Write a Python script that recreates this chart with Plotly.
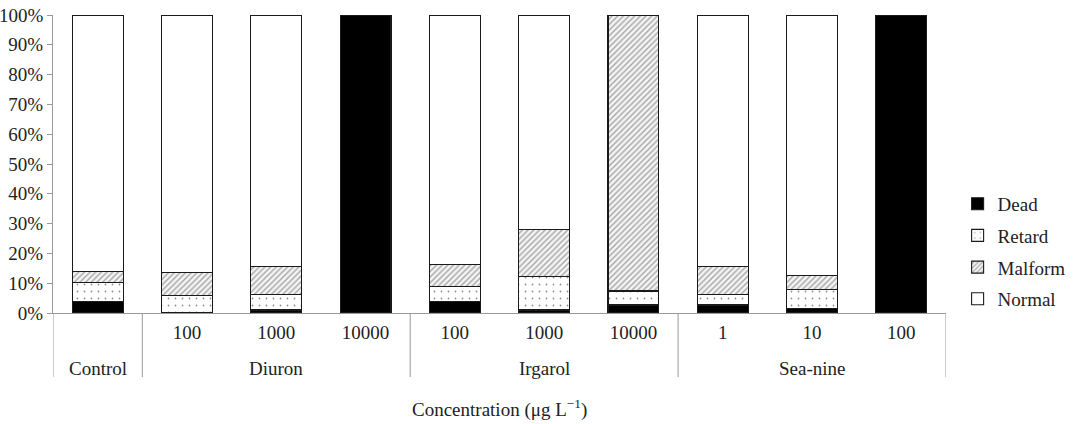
import plotly.graph_objects as go

groups = ["Control", "Diuron", "Diuron", "Diuron", "Irgarol", "Irgarol", "Irgarol", "Sea-nine", "Sea-nine", "Sea-nine"]
concs = ["", "100", "1000", "10000", "100", "1000", "10000", "1", "10", "100"]
group_names = ["Control", "Diuron", "Irgarol", "Sea-nine"]

dead = [4.0, 0.0, 1.0, 100.0, 4.0, 1.0, 2.7, 2.7, 1.5, 100.0]
retard = [6.2, 6.0, 5.3, 0.0, 4.8, 11.3, 4.7, 3.6, 6.5, 0.0]
malform = [3.7, 7.5, 9.2, 0.0, 7.6, 15.8, 92.6, 9.2, 4.5, 0.0]
normal = [86.1, 86.5, 84.5, 0.0, 83.6, 71.9, 0.0, 84.5, 87.5, 0.0]

FONT = "Liberation Serif"
ids = [f"{g} {c}".strip() for g, c in zip(groups, concs)]

fig = go.Figure()
line = dict(color="#1a1a1a", width=1.1)
fig.add_trace(go.Bar(name="Dead", x=ids, y=dead, legendgroup="a",
                     marker=dict(color="black", line=line)))
fig.add_trace(go.Bar(name="Retard", x=ids, y=retard, legendgroup="b",
                     marker=dict(color="white", line=line,
                                 pattern=dict(shape=".", fgcolor="#222", bgcolor="white",
                                              size=7, solidity=0.05))))
fig.add_trace(go.Bar(name="Malform", x=ids, y=malform, legendgroup="c",
                     marker=dict(color="white", line=line,
                                 pattern=dict(shape="/", fgcolor="#555", bgcolor="#f4f4f4",
                                              size=4, solidity=0.35))))
fig.add_trace(go.Bar(name="Normal", x=ids, y=normal, legendgroup="d",
                     marker=dict(color="white", line=line)))

# group labels and dividers
n = len(ids)
for g in group_names:
    idx = [i for i, gg in enumerate(groups) if gg == g]
    mid = (idx[0] + idx[-1]) / 2
    fig.add_annotation(x=mid, xref="x", y=-0.186, yref="paper", text=g,
                       showarrow=False, yanchor="middle",
                       font=dict(family=FONT, size=19, color="#222"))

bounds = [-0.5] + [i + 0.5 for i in range(n - 1) if groups[i] != groups[i + 1]] + [n - 0.5]
for b in bounds:
    fig.add_shape(type="line", xref="x", yref="paper", x0=b, x1=b, y0=0, y1=-0.215,
                  line=dict(color="#999", width=1))

fig.add_annotation(x=0.5, xref="paper", y=-0.322, yref="paper",
                   text="Concentration (μg L<sup>−1</sup>)", showarrow=False,
                   yanchor="middle", font=dict(family=FONT, size=19, color="#222"))

tick_ids = [i for i, c in zip(ids, concs) if c]
tick_txt = [c for c in concs if c]

fig.update_layout(
    barmode="stack",
    bargap=0.43,
    width=1084, height=424,
    margin=dict(l=53, r=138, t=15, b=111),
    plot_bgcolor="white", paper_bgcolor="white",
    font=dict(family=FONT, size=19, color="#222"),
    legend=dict(x=1.013, y=0.43, xanchor="left", yanchor="top",
                traceorder="grouped", font=dict(size=19), itemwidth=30,
                tracegroupgap=4),
    showlegend=True,
)
fig.update_xaxes(
    type="category", range=[-0.5, n - 0.5], automargin=False,
    tickvals=tick_ids, ticktext=tick_txt,
    showline=True, linecolor="#999", linewidth=1,
    ticks="", ticklabelstandoff=2, tickfont=dict(size=19),
)
fig.update_yaxes(
    range=[0, 100], dtick=10, ticksuffix="%", automargin=False,
    showline=True, linecolor="#999", linewidth=1,
    ticks="outside", ticklen=5, tickcolor="#999",
    showgrid=False, zeroline=False, tickfont=dict(size=19),
)

fig.write_html("out.html")
